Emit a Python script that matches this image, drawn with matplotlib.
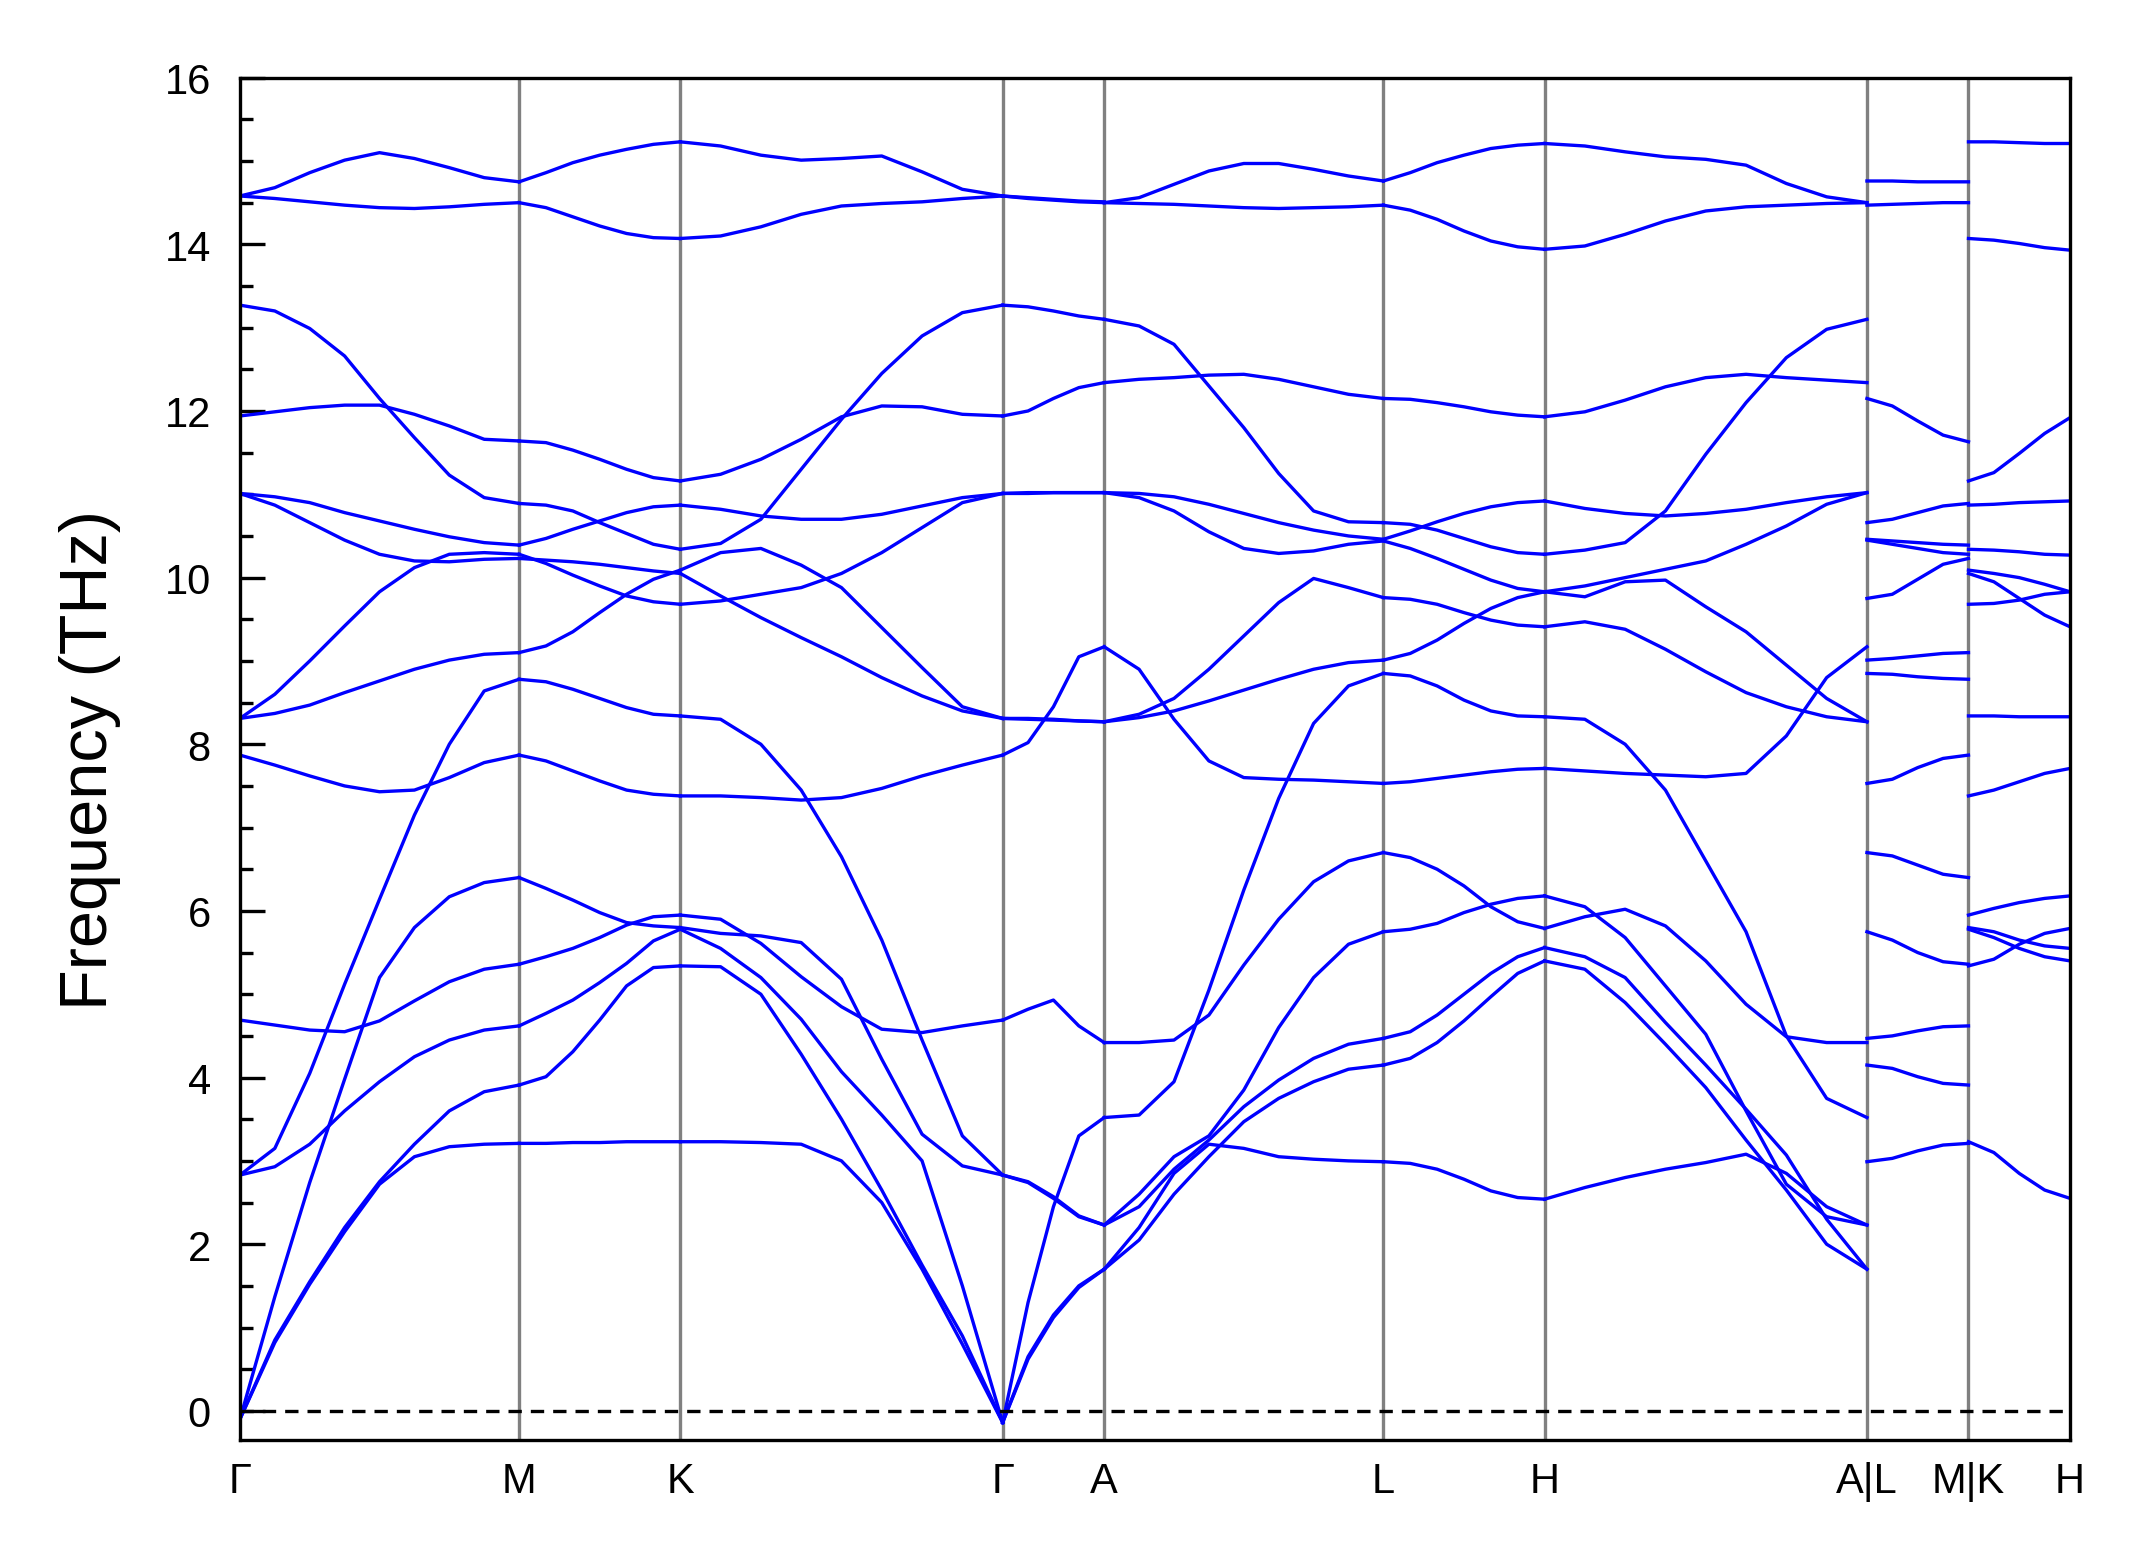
import numpy as np
import matplotlib.pyplot as plt

plt.rcParams['font.family'] = ['Liberation Sans', 'DejaVu Sans']

# high-symmetry labels along the path
labels = ['Γ', 'M', 'K', 'Γ', 'A', 'L', 'H', 'A|L', 'M|K', 'H']
# segment lengths in units of |ΓK|; the path breaks after the 7th and 8th segments
seg_len = [0.866, 0.5, 1.0, 0.315, 0.866, 0.5, 1.0, 0.315, 0.315]

# frequencies (THz) read at evenly spaced q-points along each segment, one row per band
gamma_m = [
    [14.58, 14.68, 14.86, 15.01, 15.10, 15.03, 14.92, 14.80, 14.75],
    [14.58, 14.55, 14.51, 14.47, 14.44, 14.43, 14.45, 14.48, 14.50],
    [13.27, 13.20, 12.99, 12.66, 12.15, 11.68, 11.23, 10.96, 10.89],
    [11.94, 11.99, 12.04, 12.07, 12.07, 11.96, 11.82, 11.66, 11.64],
    [11.01, 10.97, 10.90, 10.78, 10.68, 10.58, 10.49, 10.42, 10.39],
    [11.01, 10.87, 10.66, 10.45, 10.28, 10.20, 10.19, 10.22, 10.23],
    [8.31, 8.60, 9.00, 9.42, 9.83, 10.12, 10.28, 10.30, 10.28],
    [8.31, 8.37, 8.47, 8.62, 8.76, 8.90, 9.01, 9.08, 9.10],
    [7.87, 7.75, 7.62, 7.50, 7.43, 7.45, 7.60, 7.78, 7.87],
    [2.83, 3.15, 4.05, 5.12, 6.14, 7.15, 8.00, 8.64, 8.78],
    [-0.10, 1.37, 2.74, 3.98, 5.20, 5.80, 6.17, 6.34, 6.40],
    [2.83, 2.93, 3.20, 3.60, 3.95, 4.25, 4.45, 4.57, 4.62],
    [4.69, 4.63, 4.57, 4.55, 4.68, 4.92, 5.15, 5.30, 5.36],
    [-0.10, 0.85, 1.55, 2.20, 2.75, 3.20, 3.60, 3.83, 3.91],
    [-0.10, 0.82, 1.52, 2.15, 2.72, 3.05, 3.17, 3.20, 3.21],
]

m_k = [
    [14.75, 14.86, 14.98, 15.07, 15.14, 15.20, 15.23],
    [14.50, 14.44, 14.33, 14.22, 14.13, 14.08, 14.07],
    [11.64, 11.62, 11.53, 11.42, 11.30, 11.20, 11.16],
    [10.89, 10.87, 10.80, 10.66, 10.53, 10.40, 10.34],
    [10.39, 10.47, 10.58, 10.68, 10.78, 10.85, 10.87],
    [10.28, 10.17, 10.03, 9.90, 9.78, 9.71, 9.68],
    [10.23, 10.21, 10.19, 10.16, 10.12, 10.08, 10.05],
    [9.10, 9.18, 9.35, 9.58, 9.80, 9.98, 10.09],
    [8.78, 8.75, 8.66, 8.55, 8.44, 8.36, 8.34],
    [7.87, 7.80, 7.68, 7.56, 7.45, 7.40, 7.38],
    [6.40, 6.27, 6.13, 5.98, 5.86, 5.82, 5.80],
    [5.36, 5.45, 5.55, 5.68, 5.83, 5.93, 5.95],
    [4.62, 4.77, 4.93, 5.14, 5.37, 5.64, 5.78],
    [3.91, 4.01, 4.31, 4.69, 5.10, 5.32, 5.34],
    [3.21, 3.21, 3.22, 3.22, 3.23, 3.23, 3.23],
]

k_gamma = [
    [15.23, 15.18, 15.07, 15.01, 15.03, 15.06, 14.87, 14.66, 14.58],
    [14.07, 14.10, 14.21, 14.36, 14.46, 14.49, 14.51, 14.55, 14.58],
    [11.16, 11.24, 11.42, 11.66, 11.93, 12.06, 12.05, 11.96, 11.94],
    [10.34, 10.41, 10.70, 11.30, 11.90, 12.45, 12.90, 13.18, 13.27],
    [10.87, 10.82, 10.74, 10.70, 10.70, 10.76, 10.86, 10.96, 11.01],
    [10.09, 10.30, 10.35, 10.15, 9.88, 9.40, 8.92, 8.45, 8.31],
    [10.05, 9.78, 9.52, 9.28, 9.05, 8.80, 8.58, 8.40, 8.31],
    [9.68, 9.72, 9.80, 9.88, 10.05, 10.30, 10.60, 10.90, 11.01],
    [8.34, 8.30, 8.00, 7.45, 6.65, 5.65, 4.45, 3.30, 2.83],
    [7.38, 7.38, 7.36, 7.33, 7.36, 7.47, 7.62, 7.75, 7.87],
    [5.95, 5.90, 5.61, 5.21, 4.85, 4.58, 4.54, 4.62, 4.69],
    [5.80, 5.73, 5.70, 5.62, 5.18, 4.22, 3.32, 2.94, 2.83],
    [5.78, 5.55, 5.20, 4.70, 4.07, 3.55, 3.00, 1.50, -0.14],
    [5.34, 5.33, 5.00, 4.28, 3.50, 2.65, 1.75, 0.90, -0.14],
    [3.23, 3.23, 3.22, 3.20, 3.00, 2.50, 1.70, 0.80, -0.14],
]

gamma_a = [
    [14.58, 14.56, 14.54, 14.52, 14.51],
    [14.58, 14.55, 14.53, 14.51, 14.50],
    [13.27, 13.25, 13.20, 13.14, 13.10],
    [11.94, 12.00, 12.15, 12.28, 12.34],
    [11.01, 11.02, 11.02, 11.02, 11.02],
    [11.01, 11.01, 11.02, 11.02, 11.02],
    [8.31, 8.30, 8.29, 8.28, 8.27],
    [8.31, 8.31, 8.30, 8.28, 8.27],
    [7.87, 8.02, 8.45, 9.05, 9.17],
    [4.69, 4.82, 4.93, 4.62, 4.42],
    [2.83, 2.75, 2.57, 2.34, 2.23],
    [2.83, 2.74, 2.55, 2.33, 2.23],
    [-0.14, 1.30, 2.45, 3.30, 3.52],
    [-0.14, 0.65, 1.15, 1.50, 1.70],
    [-0.14, 0.62, 1.12, 1.48, 1.70],
]

a_l = [
    [14.50, 14.56, 14.72, 14.88, 14.97, 14.97, 14.90, 14.82, 14.76],
    [14.50, 14.49, 14.48, 14.46, 14.44, 14.43, 14.44, 14.45, 14.47],
    [13.10, 13.02, 12.80, 12.30, 11.80, 11.25, 10.80, 10.67, 10.66],
    [12.34, 12.38, 12.40, 12.43, 12.44, 12.38, 12.29, 12.20, 12.15],
    [11.02, 11.01, 10.97, 10.88, 10.77, 10.66, 10.57, 10.50, 10.46],
    [11.02, 10.96, 10.80, 10.55, 10.35, 10.29, 10.32, 10.40, 10.44],
    [9.17, 8.90, 8.30, 7.80, 7.60, 7.58, 7.57, 7.55, 7.53],
    [8.27, 8.36, 8.55, 8.90, 9.30, 9.70, 9.99, 9.88, 9.76],
    [8.27, 8.32, 8.40, 8.52, 8.65, 8.78, 8.90, 8.98, 9.01],
    [4.42, 4.42, 4.45, 4.75, 5.35, 5.90, 6.35, 6.60, 6.70],
    [3.52, 3.55, 3.95, 5.05, 6.25, 7.35, 8.25, 8.70, 8.85],
    [2.23, 2.60, 3.05, 3.30, 3.85, 4.60, 5.20, 5.60, 5.75],
    [2.23, 2.45, 2.90, 3.25, 3.65, 3.97, 4.23, 4.40, 4.47],
    [1.70, 2.05, 2.60, 3.05, 3.47, 3.75, 3.95, 4.10, 4.15],
    [1.70, 2.20, 2.85, 3.20, 3.15, 3.05, 3.02, 3.00, 2.99],
]

l_h = [
    [14.76, 14.86, 14.98, 15.07, 15.15, 15.19, 15.21],
    [14.47, 14.41, 14.30, 14.16, 14.04, 13.97, 13.94],
    [12.15, 12.14, 12.10, 12.05, 11.99, 11.95, 11.93],
    [10.66, 10.64, 10.57, 10.47, 10.37, 10.30, 10.28],
    [10.46, 10.56, 10.67, 10.77, 10.85, 10.90, 10.92],
    [10.44, 10.35, 10.23, 10.10, 9.97, 9.87, 9.83],
    [7.53, 7.55, 7.59, 7.63, 7.67, 7.70, 7.71],
    [9.76, 9.74, 9.68, 9.58, 9.49, 9.43, 9.41],
    [9.01, 9.09, 9.25, 9.45, 9.63, 9.76, 9.83],
    [6.70, 6.64, 6.50, 6.30, 6.05, 5.87, 5.79],
    [8.85, 8.82, 8.70, 8.53, 8.40, 8.34, 8.33],
    [5.75, 5.78, 5.85, 5.98, 6.08, 6.15, 6.18],
    [4.47, 4.55, 4.75, 5.00, 5.25, 5.45, 5.56],
    [4.15, 4.23, 4.42, 4.68, 4.97, 5.25, 5.40],
    [2.99, 2.97, 2.90, 2.78, 2.64, 2.56, 2.54],
]

h_a = [
    [15.21, 15.18, 15.11, 15.05, 15.02, 14.95, 14.73, 14.57, 14.50],
    [13.94, 13.98, 14.12, 14.28, 14.40, 14.45, 14.47, 14.49, 14.50],
    [11.93, 11.99, 12.13, 12.29, 12.40, 12.44, 12.40, 12.37, 12.34],
    [10.92, 10.83, 10.77, 10.74, 10.77, 10.82, 10.90, 10.97, 11.02],
    [10.28, 10.33, 10.42, 10.80, 11.48, 12.10, 12.64, 12.98, 13.10],
    [9.83, 9.90, 10.00, 10.10, 10.20, 10.40, 10.62, 10.88, 11.02],
    [9.83, 9.77, 9.95, 9.97, 9.65, 9.35, 8.95, 8.55, 8.27],
    [9.41, 9.47, 9.38, 9.14, 8.87, 8.62, 8.45, 8.33, 8.27],
    [8.33, 8.30, 8.00, 7.45, 6.60, 5.75, 4.50, 3.75, 3.52],
    [7.71, 7.68, 7.65, 7.63, 7.61, 7.65, 8.10, 8.80, 9.17],
    [6.18, 6.05, 5.68, 5.10, 4.52, 3.60, 2.72, 2.33, 2.23],
    [5.79, 5.93, 6.02, 5.82, 5.40, 4.88, 4.49, 4.42, 4.42],
    [5.56, 5.45, 5.20, 4.66, 4.15, 3.62, 3.07, 2.30, 1.70],
    [5.40, 5.30, 4.90, 4.40, 3.88, 3.25, 2.65, 2.00, 1.70],
    [2.54, 2.68, 2.80, 2.90, 2.98, 3.08, 2.85, 2.45, 2.23],
]

l_m = [
    [14.76, 14.76, 14.75, 14.75, 14.75],
    [14.47, 14.48, 14.49, 14.50, 14.50],
    [12.15, 12.06, 11.88, 11.71, 11.63],
    [10.66, 10.70, 10.78, 10.86, 10.89],
    [10.46, 10.44, 10.42, 10.40, 10.39],
    [10.45, 10.40, 10.35, 10.30, 10.28],
    [9.75, 9.80, 9.98, 10.16, 10.23],
    [9.01, 9.03, 9.06, 9.09, 9.10],
    [8.85, 8.84, 8.81, 8.79, 8.78],
    [7.53, 7.58, 7.72, 7.83, 7.87],
    [6.70, 6.66, 6.55, 6.44, 6.40],
    [5.75, 5.65, 5.50, 5.39, 5.36],
    [4.47, 4.50, 4.56, 4.61, 4.62],
    [4.15, 4.11, 4.01, 3.93, 3.91],
    [2.99, 3.03, 3.12, 3.19, 3.21],
]

k_h = [
    [15.23, 15.23, 15.22, 15.21, 15.21],
    [14.07, 14.05, 14.01, 13.96, 13.93],
    [11.16, 11.26, 11.49, 11.73, 11.92],
    [10.87, 10.88, 10.90, 10.91, 10.92],
    [10.34, 10.33, 10.31, 10.28, 10.27],
    [10.09, 10.05, 10.00, 9.92, 9.83],
    [10.05, 9.95, 9.75, 9.55, 9.41],
    [9.68, 9.69, 9.73, 9.80, 9.83],
    [8.34, 8.34, 8.33, 8.33, 8.33],
    [7.38, 7.45, 7.55, 7.65, 7.71],
    [5.95, 6.03, 6.10, 6.15, 6.18],
    [5.80, 5.75, 5.65, 5.58, 5.55],
    [5.78, 5.68, 5.55, 5.45, 5.40],
    [5.34, 5.42, 5.60, 5.73, 5.79],
    [3.23, 3.10, 2.85, 2.65, 2.55],
]

segments = [gamma_m, m_k, k_gamma, gamma_a, a_l, l_h, h_a, l_m, k_h]

fig = plt.figure(figsize=(7.16, 5.2233), dpi=300)
ax = fig.add_axes([0.1117, 0.0804, 0.852, 0.8694])

start = 0.0
ticks = [0.0]
for bands, length in zip(segments, seg_len):
    bands = np.array(bands)
    q = start + np.linspace(0, length, bands.shape[1])
    for b in bands:
        ax.plot(q, b, color='blue', lw=0.8, solid_joinstyle='round')
    start += length
    ticks.append(start)

for t in ticks[1:-1]:
    ax.axvline(t, color='gray', lw=0.8, zorder=0)
ax.axhline(0, color='black', lw=0.8, ls=(0, (4, 2.7)))

ax.set_xlim(ticks[0], ticks[-1])
ax.set_ylim(-0.35, 16)
ax.set_xticks(ticks)
ax.set_xticklabels(labels, fontsize=10)
ax.set_yticks(np.arange(0, 17, 2))
ax.set_yticks(np.arange(0, 16.01, 0.5), minor=True)
ax.tick_params(axis='y', which='major', direction='in', length=6, width=0.8,
               labelsize=10, pad=7)
ax.tick_params(axis='y', which='minor', direction='in', length=3, width=0.8)
ax.tick_params(axis='x', length=0, pad=5)
for s in ax.spines.values():
    s.set_linewidth(0.8)

ax.set_ylabel('Frequency (THz)', fontsize=16)
ax.yaxis.set_label_coords(-0.065, 0.5)

fig.savefig('out.png', dpi=300)
